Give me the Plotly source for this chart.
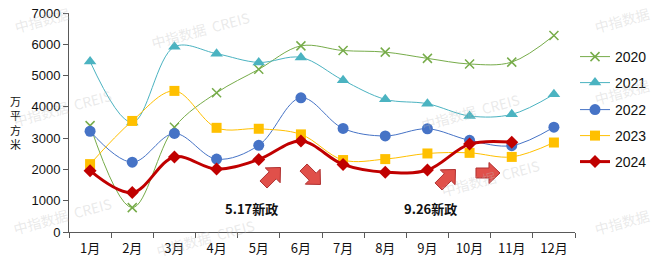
import math
import plotly.graph_objects as go

months = ["1月", "2月", "3月", "4月", "5月", "6月", "7月", "8月", "9月", "10月", "11月", "12月"]
s2020 = [3400, 780, 3350, 4450, 5200, 5950, 5800, 5750, 5550, 5370, 5430, 6280]
s2021 = [5450, 3500, 5920, 5700, 5420, 5580, 4850, 4240, 4100, 3710, 3760, 4400]
s2022 = [3220, 2230, 3150, 2330, 2770, 4290, 3310, 3070, 3300, 2930, 2760, 3350]
s2023 = [2170, 3550, 4510, 3330, 3300, 3120, 2300, 2330, 2510, 2530, 2400, 2860]
s2024 = [1960, 1260, 2400, 2010, 2320, 2910, 2160, 1910, 1980, 2810, 2870]

series = [
    ("2020", s2020, "#77AC4A", "x-thin", 1, 9),
    ("2021", s2021, "#4BB3C1", "triangle-up", 1, 11),
    ("2022", s2022, "#4673C6", "circle", 1, 11),
    ("2023", s2023, "#FFC000", "square", 1, 10),
    ("2024", s2024, "#C00000", "diamond", 3, 10),
]

# plot area in pixels
L, R, T, B = 69, 575, 13, 232
W, H = 660, 261


def px2paper(px, py):
    return (px - L) / (R - L), (B - py) / (B - T)


legend_rows = [57, 83, 110, 136, 162]
legend_names = ["legend", "legend2", "legend3", "legend4", "legend5"]

fig = go.Figure()
for i, (name, vals, color, sym, lw, ms) in enumerate(series):
    marker = dict(symbol=sym, size=ms, color=color)
    if sym == "x-thin":
        marker["line"] = dict(color=color, width=1.5)
    fig.add_trace(go.Scatter(
        x=months[:len(vals)], y=vals, name=name, mode="lines+markers",
        line=dict(color=color, width=lw, shape="spline", smoothing=1.0),
        marker=marker, legend=legend_names[i],
    ))

# decorative block arrows: (center_x_px, center_y_px, angle_deg screen)
arrows = [(272, 176, -45), (312, 176, 45), (447, 178, -45), (488, 173, 0)]
arrow_poly = [(-12, -5), (1, -5), (1, -10.5), (12, 0), (1, 10.5), (1, 5), (-12, 5)]
shapes = []
for cx, cy, ang in arrows:
    a = math.radians(ang)
    pts = []
    for x, y in arrow_poly:
        rx = x * math.cos(a) - y * math.sin(a) + cx
        ry = x * math.sin(a) + y * math.cos(a) + cy
        pts.append(px2paper(rx, ry))
    path = "M " + " L ".join(f"{p[0]:.4f},{p[1]:.4f}" for p in pts) + " Z"
    shapes.append(dict(type="path", xref="paper", yref="paper", path=path,
                       fillcolor="#E0504A", line=dict(color="#B03030", width=1)))


def ann(text, px, py, size, color, family="Noto Sans CJK SC", angle=0):
    x, y = px2paper(px, py)
    return dict(text=text, x=x, y=y, xref="paper", yref="paper", showarrow=False,
                xanchor="center", yanchor="middle", textangle=angle,
                font=dict(size=size, color=color, family=family))


annotations = [
    ann("<b>5.17新政</b>", 251, 208, 13, "#111111"),
    ann("<b>9.26新政</b>", 430, 208, 13, "#111111"),
    ann("万<br>平<br>方<br>米", 15, 122, 11, "#111111"),
]

# faint watermarks
wm = [(42, 20, "中指数据"), (200, 30, "中指数据  CREIS"), (622, 20, "中指数据"),
      (62, 108, "中指数据  CREIS"), (470, 112, "中指数据  CREIS"),
      (62, 216, "中指数据  CREIS"), (205, 238, "中指数据  CREIS"),
      (490, 178, "中指数据  CREIS"), (622, 92, "中指数据"), (622, 222, "中指数据")]
for wx, wy, t in wm:
    annotations.append(ann(t, wx, wy, 14, "rgba(190,190,190,0.33)", angle=-15))

layout_legends = {}
for nm, row in zip(legend_names, legend_rows):
    lx, ly = px2paper(575, row)
    layout_legends[nm] = dict(x=lx, y=ly, xanchor="left", yanchor="middle",
                              font=dict(size=14, color="#111111", family="Liberation Sans"),
                              bgcolor="rgba(0,0,0,0)", borderwidth=0)

fig.update_layout(
    width=W, height=H,
    margin=dict(l=L, r=W - R, t=T, b=H - B, autoexpand=False),
    paper_bgcolor="white", plot_bgcolor="white",
    showlegend=True,
    shapes=shapes, annotations=annotations,
    xaxis=dict(type="category", range=[-0.5, 11.5], showgrid=False, automargin=False,
               showline=True, linecolor="#595959", linewidth=1,
               ticks="outside", tickson="boundaries", ticklen=5, tickcolor="#595959",
               ticklabelstandoff=4,
               tickfont=dict(size=13, color="#111111", family="Noto Sans CJK SC")),
    yaxis=dict(range=[0, 7000], dtick=1000, showgrid=False, zeroline=False, automargin=False,
               showline=True, linecolor="#595959", linewidth=1,
               ticks="outside", ticklen=5, tickcolor="#595959",
               tickfont=dict(size=13, color="#111111", family="Liberation Sans")),
    **layout_legends,
)

fig.write_html("out.html")
